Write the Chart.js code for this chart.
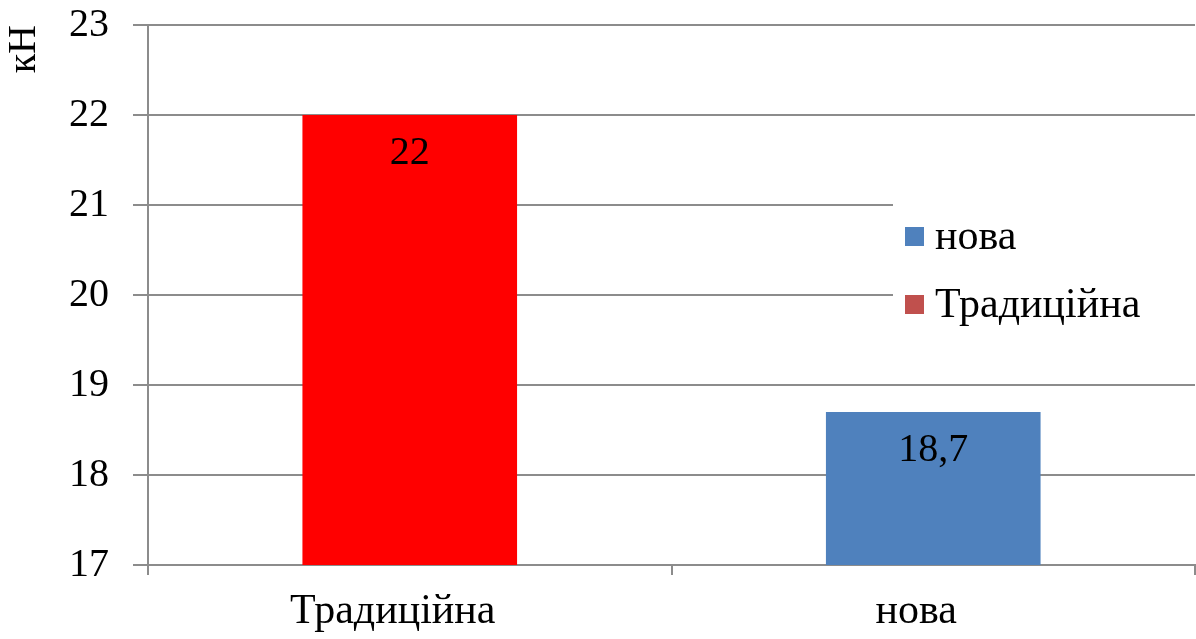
<!DOCTYPE html>
<html>
<head>
<meta charset="utf-8">
<script src="https://cdn.jsdelivr.net/npm/chart.js@4.4.1/dist/chart.umd.min.js"></script>
<style>
  html, body { margin: 0; padding: 0; background: #ffffff; }
  #wrap { width: 1196px; height: 639px; position: relative; }
</style>
</head>
<body>
<div id="wrap"><canvas id="c"></canvas></div>
<script>
// Categories and series
const categories = ['Традиційна', 'нова'];
const seriesNames = ['нова', 'Традиційна'];
const novaValues = [null, 18.7];
const tradValues = [22, null];
const yTickValues = [17, 18, 19, 20, 21, 22, 23];
const yAxisTitle = 'кН';

const barColors = ['#4F81BD', '#FF0000'];
const legendColors = ['#4F81BD', '#C0504D'];
const gridColor = '#8c8c8c';
const serif = '"Liberation Serif", "Times New Roman", serif';

Chart.defaults.font.family = serif;
Chart.defaults.color = '#000000';

const fmt = v => String(v).replace('.', ',');

// Value labels inside the top of each bar
const valueLabels = {
  id: 'valueLabels',
  afterDatasetsDraw(chart) {
    const ctx = chart.ctx;
    ctx.save();
    ctx.font = '40px ' + serif;
    ctx.fillStyle = '#000000';
    ctx.textAlign = 'center';
    ctx.textBaseline = 'middle';
    chart.data.datasets.forEach((ds, di) => {
      const meta = chart.getDatasetMeta(di);
      meta.data.forEach((bar, i) => {
        const v = ds.data[i];
        if (v === null || v === undefined) return;
        ctx.fillText(fmt(v), bar.x, bar.y + 38);
      });
    });
    ctx.restore();
  }
};

// Legend box drawn over the right part of the plot
const boxLegend = {
  id: 'boxLegend',
  afterDraw(chart) {
    const ctx = chart.ctx;
    const area = chart.chartArea;
    const x0 = area.right - 302;
    const y0 = 180;
    ctx.save();
    ctx.fillStyle = '#ffffff';
    ctx.fillRect(x0, y0, 302, 150);
    ctx.font = '42px ' + serif;
    ctx.textBaseline = 'middle';
    ctx.textAlign = 'left';
    chart.data.datasets.forEach((ds, i) => {
      const cy = 237 + i * 68;
      ctx.fillStyle = legendColors[i];
      ctx.fillRect(x0 + 12, cy - 10, 19, 19);
      ctx.fillStyle = '#000000';
      ctx.fillText(ds.label, x0 + 42, cy + 1);
    });
    ctx.restore();
  }
};

new Chart(document.getElementById('c'), {
  type: 'bar',
  data: {
    labels: categories,
    datasets: [
      { label: seriesNames[0], data: novaValues, backgroundColor: barColors[0], borderWidth: 0 },
      { label: seriesNames[1], data: tradValues, backgroundColor: barColors[1], borderWidth: 0 }
    ]
  },
  options: {
    responsive: true,
    maintainAspectRatio: false,
    animation: false,
    skipNull: true,
    categoryPercentage: 1.0,
    barPercentage: 0.41,
    layout: { padding: { top: 25, right: 1, bottom: 0, left: 0 } },
    plugins: {
      legend: { display: false },
      tooltip: { enabled: false }
    },
    scales: {
      x: {
        offset: true,
        grid: {
          offset: true,
          drawOnChartArea: false,
          drawTicks: true,
          tickLength: 10,
          color: gridColor,
          lineWidth: 2
        },
        border: { display: true, color: gridColor, width: 2 },
        ticks: {
          font: { size: 42, family: serif },
          color: '#000000',
          padding: 12,
          labelOffset: -17,
          maxRotation: 0
        },
        afterFit(scale) {
          scale.height = 74;
          scale.paddingLeft = 0;
          scale.paddingRight = 0;
        }
      },
      y: {
        min: 17,
        max: 23,
        afterBuildTicks(scale) {
          scale.ticks = yTickValues.map(v => ({ value: v }));
        },
        grid: {
          color: gridColor,
          lineWidth: 2,
          drawTicks: true,
          tickLength: 15
        },
        border: { display: true, color: gridColor, width: 2 },
        ticks: {
          font: { size: 40, family: serif },
          color: '#000000',
          padding: 24
        },
        title: {
          display: true,
          text: yAxisTitle,
          align: 'end',
          font: { size: 40, family: serif },
          color: '#000000',
          padding: { top: 0, bottom: 0 }
        },
        afterFit(scale) {
          scale.width = 148;
          scale.paddingTop = 0;
          scale.paddingBottom = 0;
        }
      }
    }
  },
  plugins: [valueLabels, boxLegend]
});
</script>
</body>
</html>
